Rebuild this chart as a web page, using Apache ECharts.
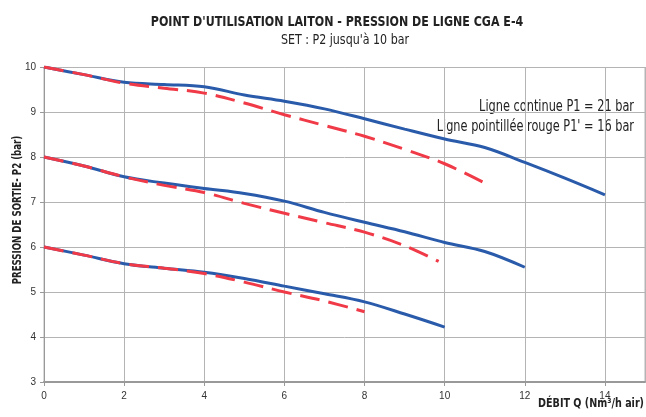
<!DOCTYPE html>
<html>
<head>
<meta charset="utf-8">
<script src="https://cdn.jsdelivr.net/npm/echarts@6/dist/echarts.min.js"></script>
<style>
  html, body { margin: 0; padding: 0; background: #fff; }
  #main { width: 646px; height: 417px; }
</style>
</head>
<body>
<div id="main"></div>
<script>
// débit Q (Nm3/h air) et pression de sortie P2 (bar)
var blue10X = [0, 1, 2, 3, 4, 5, 6, 7, 8, 9, 10, 11, 12, 13, 14];
var blue10Y = [10, 9.83, 9.66, 9.61, 9.56, 9.38, 9.24, 9.07, 8.85, 8.62, 8.40, 8.21, 7.88, 7.53, 7.16];
var red10X = [0, 1, 2, 3, 4, 5, 6, 7, 8, 9, 10, 11];
var red10Y = [10, 9.83, 9.64, 9.53, 9.42, 9.20, 8.94, 8.70, 8.46, 8.17, 7.85, 7.42];

var blue8X = [0, 1, 2, 3, 4, 5, 6, 7, 8, 9, 10, 11, 12];
var blue8Y = [8, 7.80, 7.56, 7.42, 7.30, 7.19, 7.02, 6.77, 6.55, 6.34, 6.10, 5.90, 5.55];
var red8X = [0, 1, 2, 3, 4, 5, 6, 7, 8, 9, 9.85];
var red8Y = [8, 7.80, 7.56, 7.37, 7.21, 6.97, 6.75, 6.54, 6.33, 6.03, 5.68];

var blue6X = [0, 1, 2, 3, 4, 5, 6, 7, 8, 9, 10];
var blue6Y = [6, 5.82, 5.63, 5.53, 5.44, 5.30, 5.13, 4.96, 4.78, 4.51, 4.22];
var red6X = [0, 1, 2, 3, 4, 5, 6, 7, 8];
var red6Y = [6, 5.82, 5.63, 5.53, 5.41, 5.22, 5.00, 4.80, 4.56];

var titleText = "POINT D'UTILISATION LAITON - PRESSION DE LIGNE CGA E-4";
var subText = "SET : P2 jusqu'à 10 bar";
var note1 = 'Ligne continue P1 = 21 bar';
var note2 = "Ligne pointillée rouge P1' = 16 bar";
var yName = 'PRESSION DE SORTIE- P2 (bar)';
var xName = 'DÉBIT Q (Nm³/h air)';

var cond = '"DejaVu Sans Condensed", sans-serif';
var blue = '#2a5bab';
var red = '#f03a47';

function pairs(xs, ys) {
  return xs.map(function (x, i) { return [x, ys[i]]; });
}

function solid(xs, ys) {
  return {
    type: 'line', smooth: 0.35, symbol: 'none', data: pairs(xs, ys),
    lineStyle: { color: blue, width: 3 }
  };
}

function dashed(xs, ys) {
  return {
    type: 'line', smooth: 0.35, symbol: 'none', data: pairs(xs, ys),
    lineStyle: { color: red, width: 3, type: [20, 9] }
  };
}

// texte condensé (la police d'origine est une Myriad Condensed)
function label(txt, x, y, font, align, sx, rot) {
  return {
    type: 'text', x: x, y: y, scaleX: sx, rotation: rot || 0, silent: true,
    style: { text: txt, align: align, verticalAlign: 'middle', font: font, fill: '#222' }
  };
}

var myChart = echarts.init(document.getElementById('main'));
var option = {
  animation: false,
  grid: { left: 44, right: 1, top: 67, bottom: 35 },
  xAxis: {
    type: 'value',
    min: 0, max: 15, interval: 2,
    axisLine: { lineStyle: { color: '#999', width: 2 } },
    axisTick: { show: true, length: 4, lineStyle: { color: '#999' } },
    axisLabel: { showMaxLabel: false, color: '#333', fontSize: 10, margin: 9, fontFamily: 'Liberation Sans' },
    splitLine: { lineStyle: { color: '#b4b4b4' } }
  },
  yAxis: {
    type: 'value',
    min: 3, max: 10, interval: 1,
    axisLine: { show: true, lineStyle: { color: '#999' } },
    axisTick: { show: true, length: 4, lineStyle: { color: '#999' } },
    axisLabel: { color: '#333', fontSize: 10, margin: 8, fontFamily: 'Liberation Sans' },
    splitLine: { lineStyle: { color: '#b4b4b4' } }
  },
  graphic: [
    { type: 'rect', shape: { x: 44, y: 67.5, width: 601, height: 315 },
      style: { fill: 'none', stroke: '#b4b4b4', lineWidth: 1 }, silent: true },
    label(titleText, 337, 22, 'bold 14px ' + cond, 'center', 0.88),
    label(subText, 345, 40, '14px ' + cond, 'center', 0.88),
    label(note1, 634, 107, '15px ' + cond, 'right', 0.84),
    label(note2, 634, 127, '15px ' + cond, 'right', 0.84),
    label(yName, 18, 210, 'bold 12px ' + cond, 'center', 0.8, Math.PI / 2),
    label(xName, 644, 404, 'bold 13px ' + cond, 'right', 0.82)
  ],
  series: [
    solid(blue10X, blue10Y),
    solid(blue8X, blue8Y),
    solid(blue6X, blue6Y),
    dashed(red10X, red10Y),
    dashed(red8X, red8Y),
    dashed(red6X, red6Y)
  ]
};
option && myChart.setOption(option);
</script>
</body>
</html>
